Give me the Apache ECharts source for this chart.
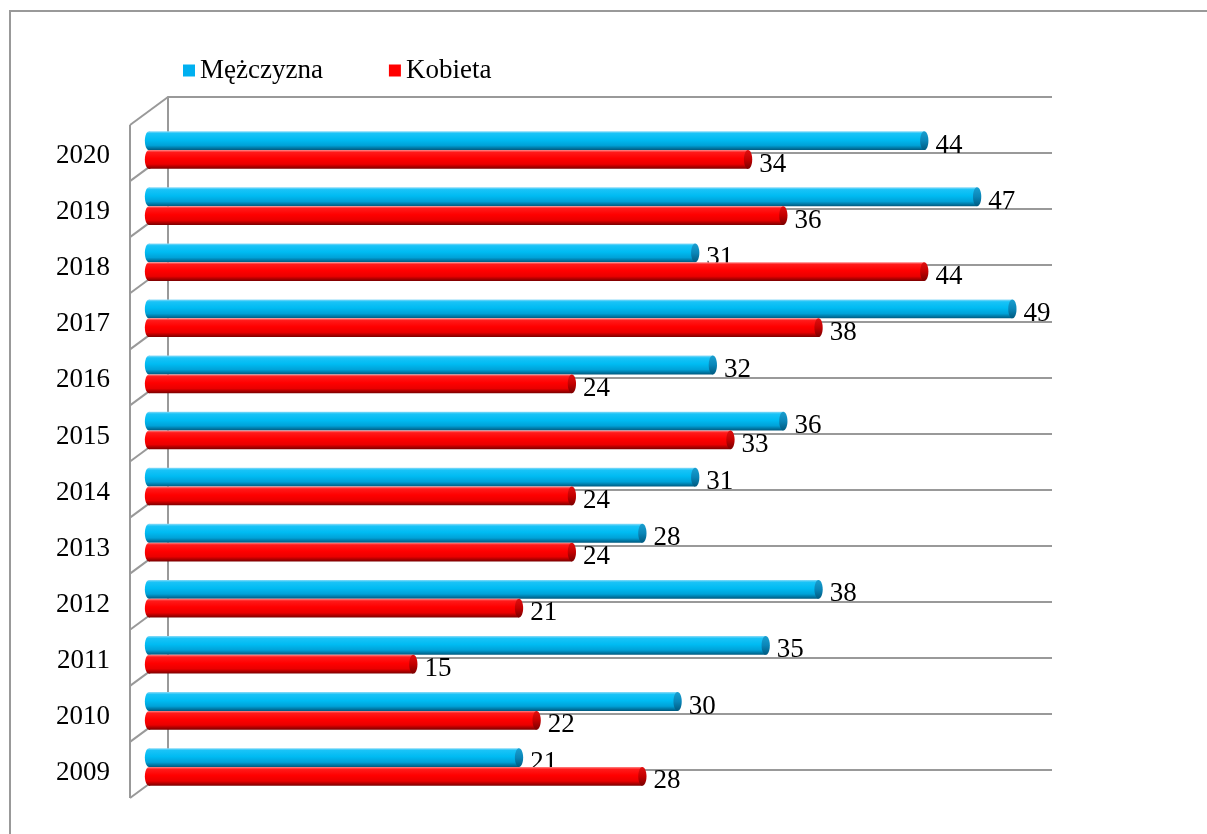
<!DOCTYPE html>
<html>
<head>
<meta charset="utf-8">
<script src="https://cdn.jsdelivr.net/npm/echarts@6/dist/echarts.min.js"></script>
<style>
html,body{margin:0;padding:0;background:#fff;}
#c{width:1207px;height:834px;}
</style>
</head>
<body>
<div id="c"></div>
<script>
const years = ['2009','2010','2011','2012','2013','2014','2015','2016','2017','2018','2019','2020'];
const menValues = [21, 30, 35, 38, 28, 31, 36, 32, 49, 31, 47, 44];
const womenValues = [28, 22, 15, 21, 24, 24, 33, 24, 38, 44, 36, 34];
const seriesNames = ['Mężczyzna', 'Kobieta'];

const FONT = '"Liberation Serif", "Times New Roman", serif';
const G = echarts.graphic;

const blueBody = new G.LinearGradient(0,0,0,1,[
  {offset:0, color:'#8fdcf8'},{offset:0.12, color:'#19c3f7'},{offset:0.45, color:'#00bbf2'},
  {offset:0.75, color:'#00a2d8'},{offset:1, color:'#005a80'}]);
const redBody = new G.LinearGradient(0,0,0,1,[
  {offset:0, color:'#ff8a8a'},{offset:0.12, color:'#ff1a1a'},{offset:0.45, color:'#ff0000'},
  {offset:0.75, color:'#ea0000'},{offset:1, color:'#7a0000'}]);
const blueCap = new G.LinearGradient(0,0,0,1,[
  {offset:0, color:'#1a9fd0'},{offset:0.5, color:'#0a86b8'},{offset:1, color:'#005a80'}]);
const redCap = new G.LinearGradient(0,0,0,1,[
  {offset:0, color:'#e01010'},{offset:0.5, color:'#c40000'},{offset:1, color:'#7a0000'}]);

function makeRender(upper, body, cap) {
  return function (params, api) {
    const v = api.value(0), c = api.value(1);
    const end = api.coord([v, c]);
    const start = api.coord([0, c]);
    const band = api.size([0, 1])[1];
    const h = band * 0.335;
    const yTop = upper ? end[1] - h : end[1];
    const cy = yTop + h / 2;
    const rx = h * 0.22;
    return {
      type: 'group',
      children: [
        {type:'ellipse', shape:{cx:start[0], cy:cy, rx:rx, ry:h/2}, style:{fill: body}},
        {type:'rect', shape:{x:start[0], y:yTop, width:end[0]-start[0], height:h}, style:{fill: body}},
        {type:'ellipse', shape:{cx:end[0], cy:cy, rx:rx, ry:h/2}, style:{fill: cap}},
        {type:'text', style:{text:String(v), x:end[0]+rx+7, y:cy+5, verticalAlign:'middle', align:'left',
          font:'27px ' + FONT, fill:'#000'}}
      ]
    };
  };
}

const BW = {left:168, top:97, width:884, height:673};
const DX = 38, DY = 28;

const graphics = [
  {type:'rect', z:0, shape:{x:10, y:11, width:1300, height:900}, style:{fill:'none', stroke:'#999', lineWidth:2}},
  {type:'line', z:1, shape:{x1:BW.left-DX, y1:BW.top+DY, x2:BW.left-DX, y2:BW.top+BW.height+DY}, style:{stroke:'#999', lineWidth:2}}
];
for (let k = 0; k <= years.length; k++) {
  const y = BW.top + BW.height * k / years.length;
  graphics.push({type:'line', z:1, shape:{x1:BW.left-DX, y1:y+DY, x2:BW.left, y2:y}, style:{stroke:'#999', lineWidth:2}});
}

const chart = echarts.init(document.getElementById('c'));
chart.setOption({
  animation: false,
  backgroundColor: '#fff',
  legend: {
    data: seriesNames,
    left: 178, top: 52,
    icon: 'rect', itemWidth: 12, itemHeight: 12, itemGap: 66,
    textStyle: {fontFamily: FONT, fontSize: 27, color: '#000'}
  },
  graphic: graphics,
  grid: [
    {left: 149, top: 122, width: 881, height: 673},
    {left: BW.left, top: BW.top, width: BW.width, height: BW.height},
    {left: 149, top: 128, width: 881, height: 673}
  ],
  xAxis: [
    {gridIndex:0, type:'value', min:0, max:50, show:false},
    {gridIndex:1, type:'value', min:0, max:50, show:false},
    {gridIndex:2, type:'value', min:0, max:50, show:false}
  ],
  yAxis: [
    {gridIndex:0, type:'category', data: years, show:false},
    {gridIndex:1, type:'category', data: years, axisLine:{show:true, lineStyle:{color:'#999', width:2}},
     axisTick:{show:false}, axisLabel:{show:false},
     splitLine:{show:true, lineStyle:{color:'#999', width:2}}},
    {gridIndex:2, type:'category', data: years, axisLine:{show:false}, axisTick:{show:false}, splitLine:{show:false},
     axisLabel:{margin:39, color:'#000', fontFamily:FONT, fontSize:27}}
  ],
  series: [
    {name: seriesNames[0], type:'custom', xAxisIndex:0, yAxisIndex:0, z:3,
     itemStyle:{color:'#00B0F0'},
     encode:{x:0, y:1},
     data: menValues.map((v,i)=>[v,i]),
     renderItem: makeRender(true, blueBody, blueCap)},
    {name: seriesNames[1], type:'custom', xAxisIndex:0, yAxisIndex:0, z:3,
     itemStyle:{color:'#FF0000'},
     encode:{x:0, y:1},
     data: womenValues.map((v,i)=>[v,i]),
     renderItem: makeRender(false, redBody, redCap)}
  ]
});
</script>
</body>
</html>
